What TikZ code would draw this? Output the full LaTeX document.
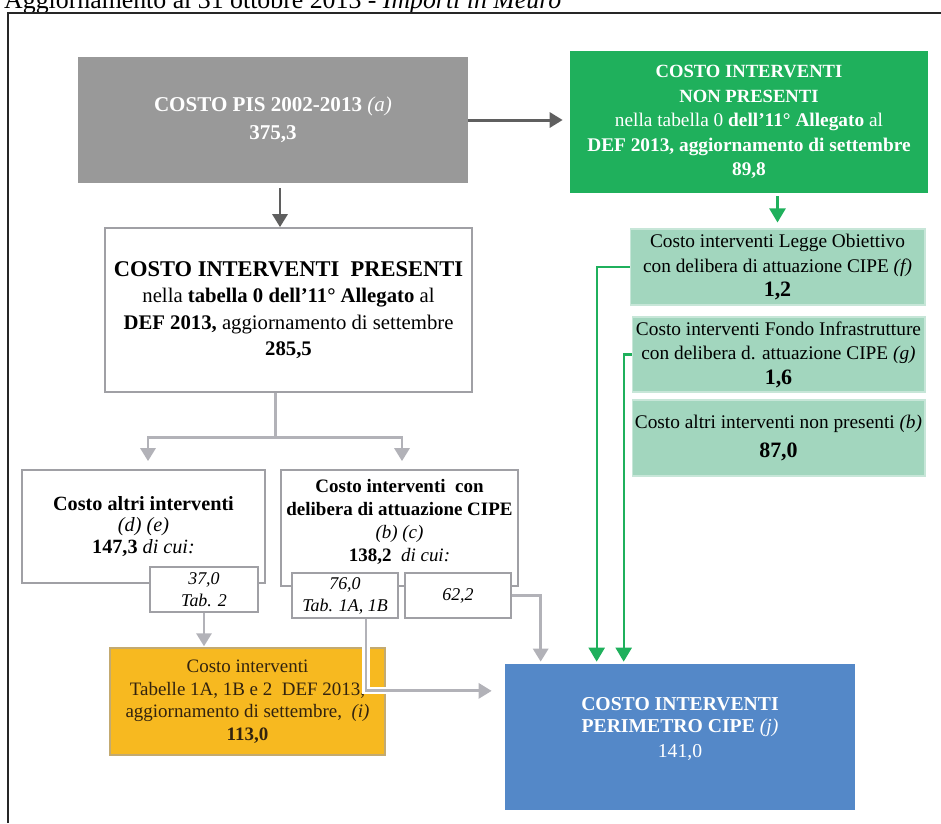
\documentclass[tikz,border=0pt]{standalone}
\usepackage{fontspec}
\setmainfont{Liberation Serif}
\usetikzlibrary{arrows.meta,calc}
\definecolor{pisgray}{RGB}{153,153,153}
\definecolor{arrgray}{RGB}{95,95,95}
\definecolor{linegray}{RGB}{178,178,184}
\definecolor{npgreen}{RGB}{31,176,92}
\definecolor{lightgreen}{RGB}{162,214,190}
\definecolor{cipeblue}{RGB}{84,136,200}
\definecolor{taborange}{RGB}{247,185,32}
\definecolor{boxedge}{RGB}{160,160,165}
\definecolor{orangetext}{RGB}{50,35,15}
\newcommand{\boxfont}[2]{\fontsize{#1}{#2}\selectfont}

\begin{document}
\begin{tikzpicture}[x=0.02cm,y=-0.02cm,
  box/.style={rectangle,inner sep=0pt,align=center},
  graybox/.style={box,fill=pisgray,text=white,font=\boxfont{12}{16}\bfseries},
  greenbox/.style={box,fill=npgreen,text=white,font=\boxfont{11}{14}\bfseries},
  lgreenbox/.style={box,fill=lightgreen,draw=lightgreen!60!white,line width=0.6pt,font=\boxfont{11}{14}},
  whitebox/.style={box,fill=white,draw=boxedge,line width=1pt,font=\boxfont{11.8}{15}},
  tabbox/.style={box,fill=white,draw=boxedge,line width=1pt,font=\boxfont{10.2}{12.5}\itshape},
  orangebox/.style={box,fill=taborange,draw=boxedge!60!taborange,line width=0.8pt,text=orangetext,font=\boxfont{10.8}{12.8}},
  bluebox/.style={box,fill=cipeblue},
  bluetext/.style={align=center,text=white,font=\boxfont{11.2}{12.5}\bfseries},
  darkarr/.style={draw=arrgray,line width=1.7pt,-{Triangle[width=0.3cm,length=0.26cm]}},
  greyarr/.style={draw=linegray,line width=1.7pt,-{Triangle[width=0.3cm,length=0.26cm]}},
  greenarr/.style={draw=npgreen,line width=1.3pt,-{Triangle[width=0.32cm,length=0.28cm]}},
  frame/.style={draw=black!85,line width=1.2pt}]
\useasboundingbox (0,0) rectangle (941,823);
\clip (0,0) rectangle (941,823);

% heading, cut at the top
\node[anchor=base west,font=\boxfont{14.7}{16}] (title) at (-2,8)
  {Aggiornamento al 31 ottobre 2013 - \textit{Importi in Meuro}};
\draw[frame] (8,823) -- (8,13) -- (941,13);

% top row
\node[graybox,minimum width=7.8cm,minimum height=2.52cm] (pis) at (273,120)
  {COSTO PIS 2002-2013 {\mdseries\itshape(a)}\\375,3};
\node[greenbox,minimum width=7.16cm,minimum height=2.84cm] (nonpres) at (749,122)
  {{\boxfont{10.6}{14}COSTO INTERVENTI}\\{\boxfont{10.6}{14}NON PRESENTI}\\{\mdseries nella tabella 0} dell’11° Allegato {\mdseries al}\\DEF 2013, aggiornamento di settembre\\89,8};

% interventi non presenti
\node[lgreenbox,minimum width=5.9cm,minimum height=1.52cm] (leggeob) at (777.5,267)
  {Costo interventi Legge Obiettivo\\con delibera di attuazione CIPE {\itshape(f)}\\{\boxfont{12.5}{14}\bfseries 1,2}};
\node[lgreenbox,minimum width=5.86cm,minimum height=1.5cm] (fondo) at (778.5,354.5)
  {Costo interventi Fondo Infrastrutture\\con delibera d. attuazione CIPE {\itshape(g)}\\{\boxfont{12.5}{14}\bfseries 1,6}};
\node[lgreenbox,minimum width=5.86cm,minimum height=1.52cm] (altrinp) at (778.5,438)
  {Costo altri interventi non presenti {\itshape(b)}\\[2pt]{\boxfont{12.5}{14}\bfseries 87,0}};

% interventi presenti
\node[whitebox,minimum width=7.34cm,minimum height=3.28cm] (pres) at (288.5,310)
  {{\boxfont{12.8}{16}\bfseries COSTO INTERVENTI\ \ PRESENTI}\\nella \textbf{tabella 0 dell’11° Allegato} al\\\textbf{DEF 2013,} aggiornamento di settembre\\\textbf{285,5}};
\node[whitebox,minimum width=4.86cm,minimum height=2.26cm,font=\boxfont{11.5}{12}] (altri) at (143.5,526.5)
  {\textbf{Costo altri interventi}\\\textit{(d) (e)}\\\textbf{147,3} \textit{di cui:}};
\node[whitebox,minimum width=4.74cm,minimum height=2.32cm] (delib) at (399.5,528) {};
\node[align=center,font=\boxfont{10.8}{13.2}] (delibtext) at ($(delib.center)+(0,-6)$)
  {\textbf{Costo interventi\ \ con}\\\textbf{delibera di attuazione CIPE}\\\textit{(b) (c)}\\\textbf{138,2}\ \ \textit{di cui:}};
\node[tabbox,minimum width=2.16cm,minimum height=0.9cm] (tabdue) at (204,589.5) {37,0\\Tab. 2};
\node[tabbox,minimum width=2.12cm,minimum height=0.9cm] (tabuno) at (345,595.5) {76,0\\Tab. 1A, 1B};
\node[tabbox,minimum width=2.12cm,minimum height=0.9cm] (quota) at (458,595.5) {62,2};

% bottom row
\node[orangebox,minimum width=5.5cm,minimum height=2.14cm] (tabelle) at (247.5,701.5)
  {Costo interventi\\Tabelle 1A, 1B e 2\ \ DEF 2013,\\aggiornamento di settembre,\ \ \textit{(i)}\\\textbf{113,0}};
\node[bluebox,minimum width=7cm,minimum height=2.92cm] (perim) at (680,737) {};
\node[bluetext] (perimtext) at ($(perim.center)+(0,-8)$)
  {COSTO INTERVENTI\\PERIMETRO CIPE {\mdseries\itshape(j)}\\[2pt]{\mdseries 141,0}};

% connectors
\coordinate (pisout) at ($(pis.south)+(7,0)$);
\draw[darkarr,shorten <=0.1cm] (pisout) -- (pisout |- pres.north);
\draw[darkarr,shorten >=0.14cm] (pis.east) -- (pis.east -| nonpres.west);
\draw[greenarr,shorten <=0.06cm,shorten >=0.12cm] (nonpres.south -| leggeob.north) -- (leggeob.north);
\draw[greenarr,shorten >=0.04cm] (leggeob.west) -| ($(perim.north west)+(92,0)$);
\draw[greenarr,shorten >=0.04cm] (fondo.west) -| ($(perim.north west)+(119,0)$);

\coordinate (split) at ($(pres.south)+(-13,45)$);
\draw[draw=linegray,line width=1.7pt] ($(pres.south)+(-13,0)$) -- (split);
\draw[greyarr,shorten >=0.16cm] (split) -| ($(altri.north)+(4.5,0)$);
\draw[greyarr,shorten >=0.16cm] (split) -| ($(delib.north)+(2.5,0)$);
\draw[greyarr,shorten >=0.02cm] (tabdue.south) -- (tabdue.south |- tabelle.north);

\coordinate (bend) at ($(tabuno.south)+(21,72)$);
\draw[white,line width=4pt] ($(tabuno.south)+(21,20)$) -- (bend) -- ($(bend)+(40,0)$);
\draw[greyarr,shorten >=0.26cm] ($(tabuno.south)+(21,0)$) -- (bend) -- (bend -| perim.west);
\draw[greyarr,shorten >=0.04cm] (quota.east) -| ($(perim.north west)+(36,0)$);
\end{tikzpicture}
\end{document}
